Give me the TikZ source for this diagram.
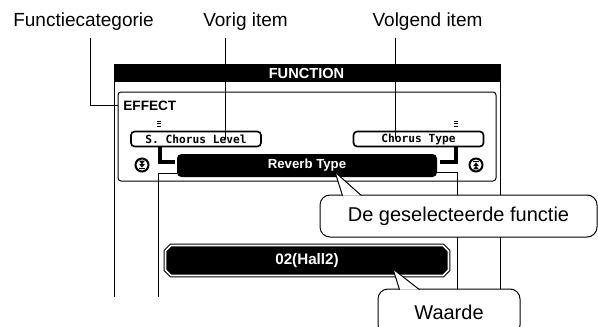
\documentclass[tikz,border=0pt]{standalone}
\usepackage{fontspec}
\setmainfont{Liberation Sans}
\newfontfamily\lcdmono{DejaVu Sans Mono}
\usetikzlibrary{positioning}

\begin{document}
\begin{tikzpicture}[x=0.5pt,y=-0.5pt,
          lbl/.style={anchor=base,inner sep=0pt,
                      font=\fontsize{9.5}{11}\selectfont},
          lead/.style={line width=0.5pt},
          itembox/.style={draw,line width=0.8pt,rounded corners=1.8pt,
                          minimum width=65pt,minimum height=7.5pt,inner sep=0pt,
                          font=\lcdmono\bfseries\fontsize{5.6}{6}\selectfont},
          selbox/.style={fill=black,text=white,rounded corners=2.2pt,
                         minimum width=130pt,minimum height=11.5pt,inner sep=0pt,
                         font=\bfseries\fontsize{6.6}{7}\selectfont},
          bracket/.style={line width=1.6pt},
          btn/.style={circle,draw,line width=1pt,minimum size=6.5pt,inner sep=0pt},
          note/.style={draw,line width=0.5pt,fill=white,rounded corners=5pt,
                       inner sep=0pt,font=\fontsize{10}{12}\selectfont}]
        \useasboundingbox (0,0) rectangle (598,326);
        \clip (0,0) rectangle (598,326);
        % labels boven
        \node[lbl](catlbl) at (83.5,27){Functiecategorie};
        \node[lbl](prevlbl) at (245.5,27){Vorig item};
        \node[lbl](nextlbl) at (427.5,27){Volgend item};
        % display
        \fill (114,65) rectangle (500,82);
        \draw[lead] (114,297) -- (114,65) -- (500,65) -- (500,297);
        \node[text=white,inner sep=0pt,font=\bfseries\fontsize{7.3}{8}\selectfont]
          (title) at (306.5,73.5){FUNCTION};
        \draw[lead,rounded corners=1.5pt] (118,92) rectangle (496,181);
        \node[anchor=west,inner xsep=2.5pt,inner ysep=0pt,
              font=\bfseries\fontsize{6.8}{7}\selectfont](effect) at (118,105.5){EFFECT};
        \foreach \mx in {159,456}
          \foreach \my in {120.5,123,125.5}
            \fill (\mx-2,\my) rectangle +(4,1.4);
        \node[itembox](prevbox) at (196,139){S. Chorus Level};
        \node[itembox](nextbox) at (418.5,139){Chorus Type};
        \node[selbox](selbox) at (307,165.5){Reverb Type};
        \draw[bracket] ([xshift=-18pt]prevbox.south)
          |- ([xshift=-1pt,yshift=1.75pt]selbox.west);
        \draw[bracket] ([xshift=18.75pt]nextbox.south)
          |- ([xshift=1.5pt,yshift=1.75pt]selbox.east);
        \coordinate (lfoot) at (158,297);
        \coordinate (rfoot) at (457,297);
        \draw[lead] ([yshift=-4pt]selbox.west) -| (lfoot);
        \draw[lead] ([yshift=-3.5pt]selbox.east) -| (rfoot);
        \node[btn](dnbtn) at (142,165){};
        \node[btn](upbtn) at (476,165){};
        \foreach \bx/\s in {142/1,476/-1}{
          \fill (\bx-3,165-4.4*\s) -- (\bx+3,165-4.4*\s) -- (\bx,165-0.8*\s) -- cycle;
          \fill (\bx-3,165-1.2*\s) -- (\bx+3,165-1.2*\s) -- (\bx,165+2.6*\s) -- cycle;
          \fill (\bx-3,165+3*\s) rectangle (\bx+3,165+4.2*\s);
        }
        \node[minimum width=141.1pt,minimum height=14.6pt,inner sep=0pt]
          (valbox) at (307,260.5){};
        \draw[draw=black,double=white,double distance=0.8pt,line width=0.55pt,fill=black]
          ([xshift=2.8pt]valbox.north west) -- ([xshift=-2.8pt]valbox.north east)
          -- ([yshift=-2.8pt]valbox.north east) -- ([yshift=2.8pt]valbox.south east)
          -- ([xshift=-2.8pt]valbox.south east) -- ([xshift=2.8pt]valbox.south west)
          -- ([yshift=2.8pt]valbox.south west) -- ([yshift=-2.8pt]valbox.north west)
          -- cycle;
        \node[text=white,inner sep=0pt,font=\bfseries\fontsize{7.6}{8}\selectfont]
          (valtext) at (valbox){02(Hall2)};
        % aanwijslijnen
        \coordinate (catfoot) at (90,38);
        \coordinate (prevfoot) at (225,38);
        \coordinate (nextfoot) at (395.5,38);
        \draw[lead] (catfoot) |- (effect.west);
        \draw[lead] (prevfoot) -- (prevfoot |- prevbox.center);
        \draw[lead] (nextfoot) -- (nextfoot |- nextbox.center);
        % ballonnen
        \node[note,minimum width=138.5pt,minimum height=21pt]
          (selnote) at (458.5,216){De geselecteerde functie};
        \coordinate (seltip) at (335,172);
        \draw[lead,fill=white] ([xshift=11.5pt,yshift=-0.6pt]selnote.north west)
          -- (seltip) -- ([xshift=21pt,yshift=-0.6pt]selnote.north west);
        \node[note,minimum width=71pt,minimum height=23pt]
          (valnote) at (449,312){Waarde};
        \coordinate (valtip) at (393,269);
        \draw[lead,fill=white] ([xshift=11pt,yshift=-0.6pt]valnote.north west)
          -- (valtip) -- ([xshift=21pt,yshift=-0.6pt]valnote.north west);
      \end{tikzpicture}
\end{document}
